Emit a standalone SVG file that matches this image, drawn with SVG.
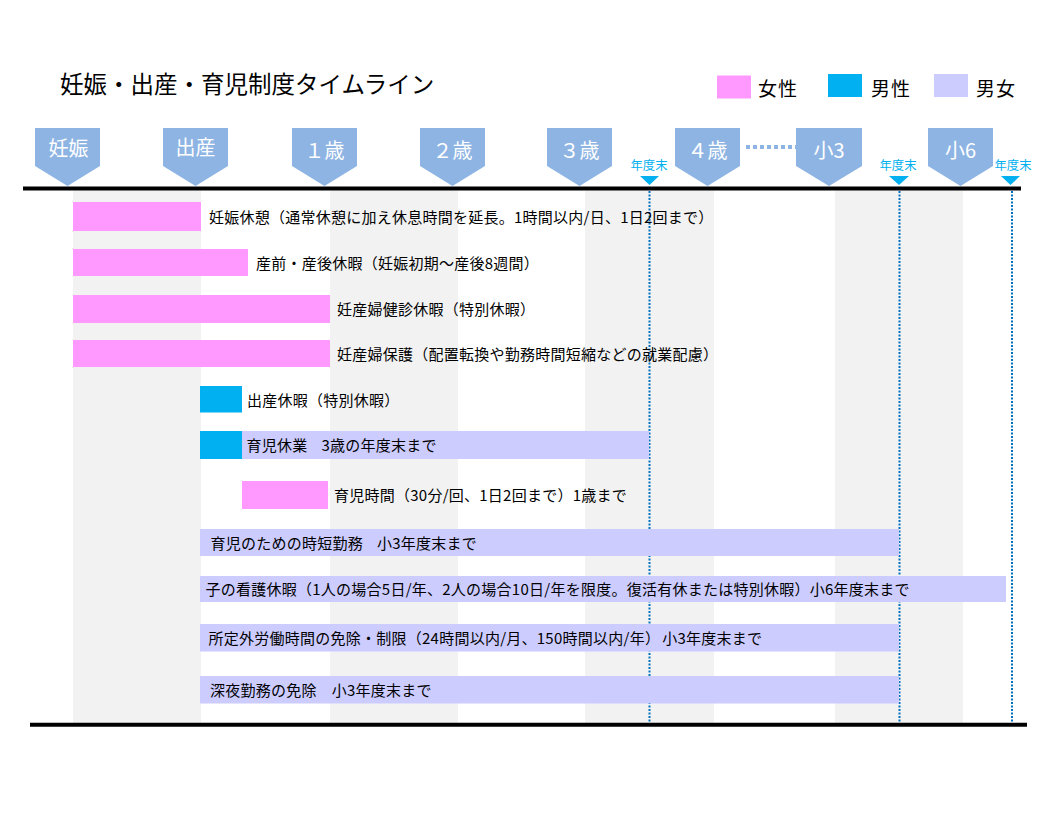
<svg xmlns="http://www.w3.org/2000/svg" width="1058" height="831" viewBox="0 0 1058 831">
<style>
text{font-family:"Noto Sans CJK JP","Noto Sans CJK SC",sans-serif;}
.title{font-size:23.5px;fill:#000;}
.leg{font-size:19px;fill:#000;letter-spacing:1px;}
.hdr{fill:#8EB4E3;}
.hdrt{font-size:20px;fill:#fff;text-anchor:middle;}
.stripe{fill:#F2F2F2;}
.w{fill:#FF99FF;}
.m{fill:#00B0F0;}
.b{fill:#CCCCFF;}
.lbl{font-size:15px;fill:#000;letter-spacing:0.25px;}
.fy{font-size:12.3px;fill:#00B0F0;text-anchor:middle;}
.tri{fill:#00B0F0;}
.vdot{stroke:#0070C0;stroke-width:2;stroke-dasharray:2 1.5;fill:none;}
</style>
<rect width="1058" height="831" fill="#fff"/>
<g id="stripes">
<rect class="stripe" x="73" y="190" width="128" height="533"/>
<rect class="stripe" x="330" y="190" width="128" height="533"/>
<rect class="stripe" x="585" y="190" width="129" height="533"/>
<rect class="stripe" x="835" y="190" width="128" height="533"/>
</g>
<text id="title" class="title" x="60" y="93">妊娠・出産・育児制度タイムライン</text>
<g id="legend">
<rect class="w" x="717" y="75.5" width="34" height="23"/>
<text class="leg" x="758" y="95.5">女性</text>
<rect class="m" x="828" y="74" width="34" height="23"/>
<text class="leg" x="871" y="95.5">男性</text>
<rect class="b" x="934" y="74" width="34" height="23"/>
<text class="leg" x="976" y="95.5">男女</text>
</g>
<g id="connectors">
<line x1="23" y1="188.5" x2="1021" y2="188.5" stroke="#000" stroke-width="4"/>
<line x1="30" y1="724.7" x2="1027" y2="724.7" stroke="#000" stroke-width="4"/>
<line x1="746" y1="147" x2="797" y2="147" stroke="#8EB4E3" stroke-width="4" stroke-dasharray="4 3"/>
<line class="vdot" x1="649.5" y1="191" x2="649.5" y2="723"/>
<line class="vdot" x1="899.5" y1="191" x2="899.5" y2="723"/>
<line class="vdot" x1="1012" y1="191" x2="1012" y2="723"/>
</g>
<g id="h-ninshin"><polygon class="hdr" points="35,128 100,128 100,166 67.5,186 35,166"/><text class="hdrt" x="68.5" y="156">妊娠</text></g>
<g id="h-shussan"><polygon class="hdr" points="163,128 228,128 228,166 195.5,186 163,166"/><text class="hdrt" x="195.5" y="155">出産</text></g>
<g id="h-1sai"><polygon class="hdr" points="292,128 357,128 357,166 324.5,186 292,166"/><text class="hdrt" x="324.5" y="157.5">１歳</text></g>
<g id="h-2sai"><polygon class="hdr" points="420,128 485,128 485,166 452.5,186 420,166"/><text class="hdrt" x="452.5" y="157.5">２歳</text></g>
<g id="h-3sai"><polygon class="hdr" points="547,128 612,128 612,166 579.5,186 547,166"/><text class="hdrt" x="579.5" y="157.5">３歳</text></g>
<g id="h-4sai"><polygon class="hdr" points="675,128 740,128 740,166 707.5,186 675,166"/><text class="hdrt" x="707.5" y="157.5">４歳</text></g>
<g id="h-sho3"><polygon class="hdr" points="796,128 862,128 862,166 829,186 796,166"/><text class="hdrt" x="829" y="157.5">小3</text></g>
<g id="h-sho6"><polygon class="hdr" points="928,128 993,128 993,166 960.5,186 928,166"/><text class="hdrt" x="960.5" y="157.5">小6</text></g>
<g id="fy1"><text class="fy" x="649" y="169.5">年度末</text><polygon class="tri" points="640,176 659,176 649.5,185"/></g>
<g id="fy2"><text class="fy" x="898" y="169.5">年度末</text><polygon class="tri" points="889,176 909,176 899,185"/></g>
<g id="fy3"><text class="fy" x="1013" y="169.5">年度末</text><polygon class="tri" points="1001,176 1020,176 1010.5,185"/></g>
<g id="bar1"><rect class="w" x="73" y="202" width="128" height="29"/><text class="lbl" x="209" y="222.5">妊娠休憩（通常休憩に加え休息時間を延長。1時間以内/日、1日2回まで）</text></g>
<g id="bar2"><rect class="w" x="73" y="249" width="175" height="27"/><text class="lbl" x="256" y="269">産前・産後休暇（妊娠初期～産後8週間）</text></g>
<g id="bar3"><rect class="w" x="73" y="295" width="257" height="28"/><text class="lbl" x="337" y="315">妊産婦健診休暇（特別休暇）</text></g>
<g id="bar4"><rect class="w" x="73" y="340" width="257" height="27"/><text class="lbl" x="337" y="360">妊産婦保護（配置転換や勤務時間短縮などの就業配慮）</text></g>
<g id="bar5"><rect class="m" x="200" y="386" width="42" height="26.5"/><text class="lbl" x="247" y="405.5">出産休暇（特別休暇）</text></g>
<g id="bar6"><rect class="b" x="242" y="431" width="407" height="28"/><rect class="m" x="200" y="431" width="42" height="28"/><text class="lbl" x="246.5" y="451">育児休業<tspan dx="14">3歳の年度末まで</tspan></text></g>
<g id="bar7"><rect class="w" x="242" y="481" width="86" height="28"/><text class="lbl" x="334" y="501">育児時間（30分/回、1日2回まで）<tspan dx="0">1歳まで</tspan></text></g>
<g id="bar8"><rect class="b" x="200" y="529" width="699" height="27"/><text class="lbl" x="210.5" y="549">育児のための時短勤務<tspan dx="14">小3年度末まで</tspan></text></g>
<g id="bar9"><rect class="b" x="200" y="576" width="806" height="26"/><text class="lbl" x="205.5" y="595">子の看護休暇（1人の場合5日/年、2人の場合10日/年を限度。復活有休または特別休暇）小6年度末まで</text></g>
<g id="bar10"><rect class="b" x="200" y="624" width="699" height="27.5"/><text class="lbl" x="208.5" y="644">所定外労働時間の免除・制限（24時間以内/月、150時間以内/年）<tspan dx="2">小3年度末まで</tspan></text></g>
<g id="bar11"><rect class="b" x="200" y="676" width="699" height="27.5"/><text class="lbl" x="210" y="696">深夜勤務の免除<tspan dx="15">小3年度末まで</tspan></text></g>
</svg>
